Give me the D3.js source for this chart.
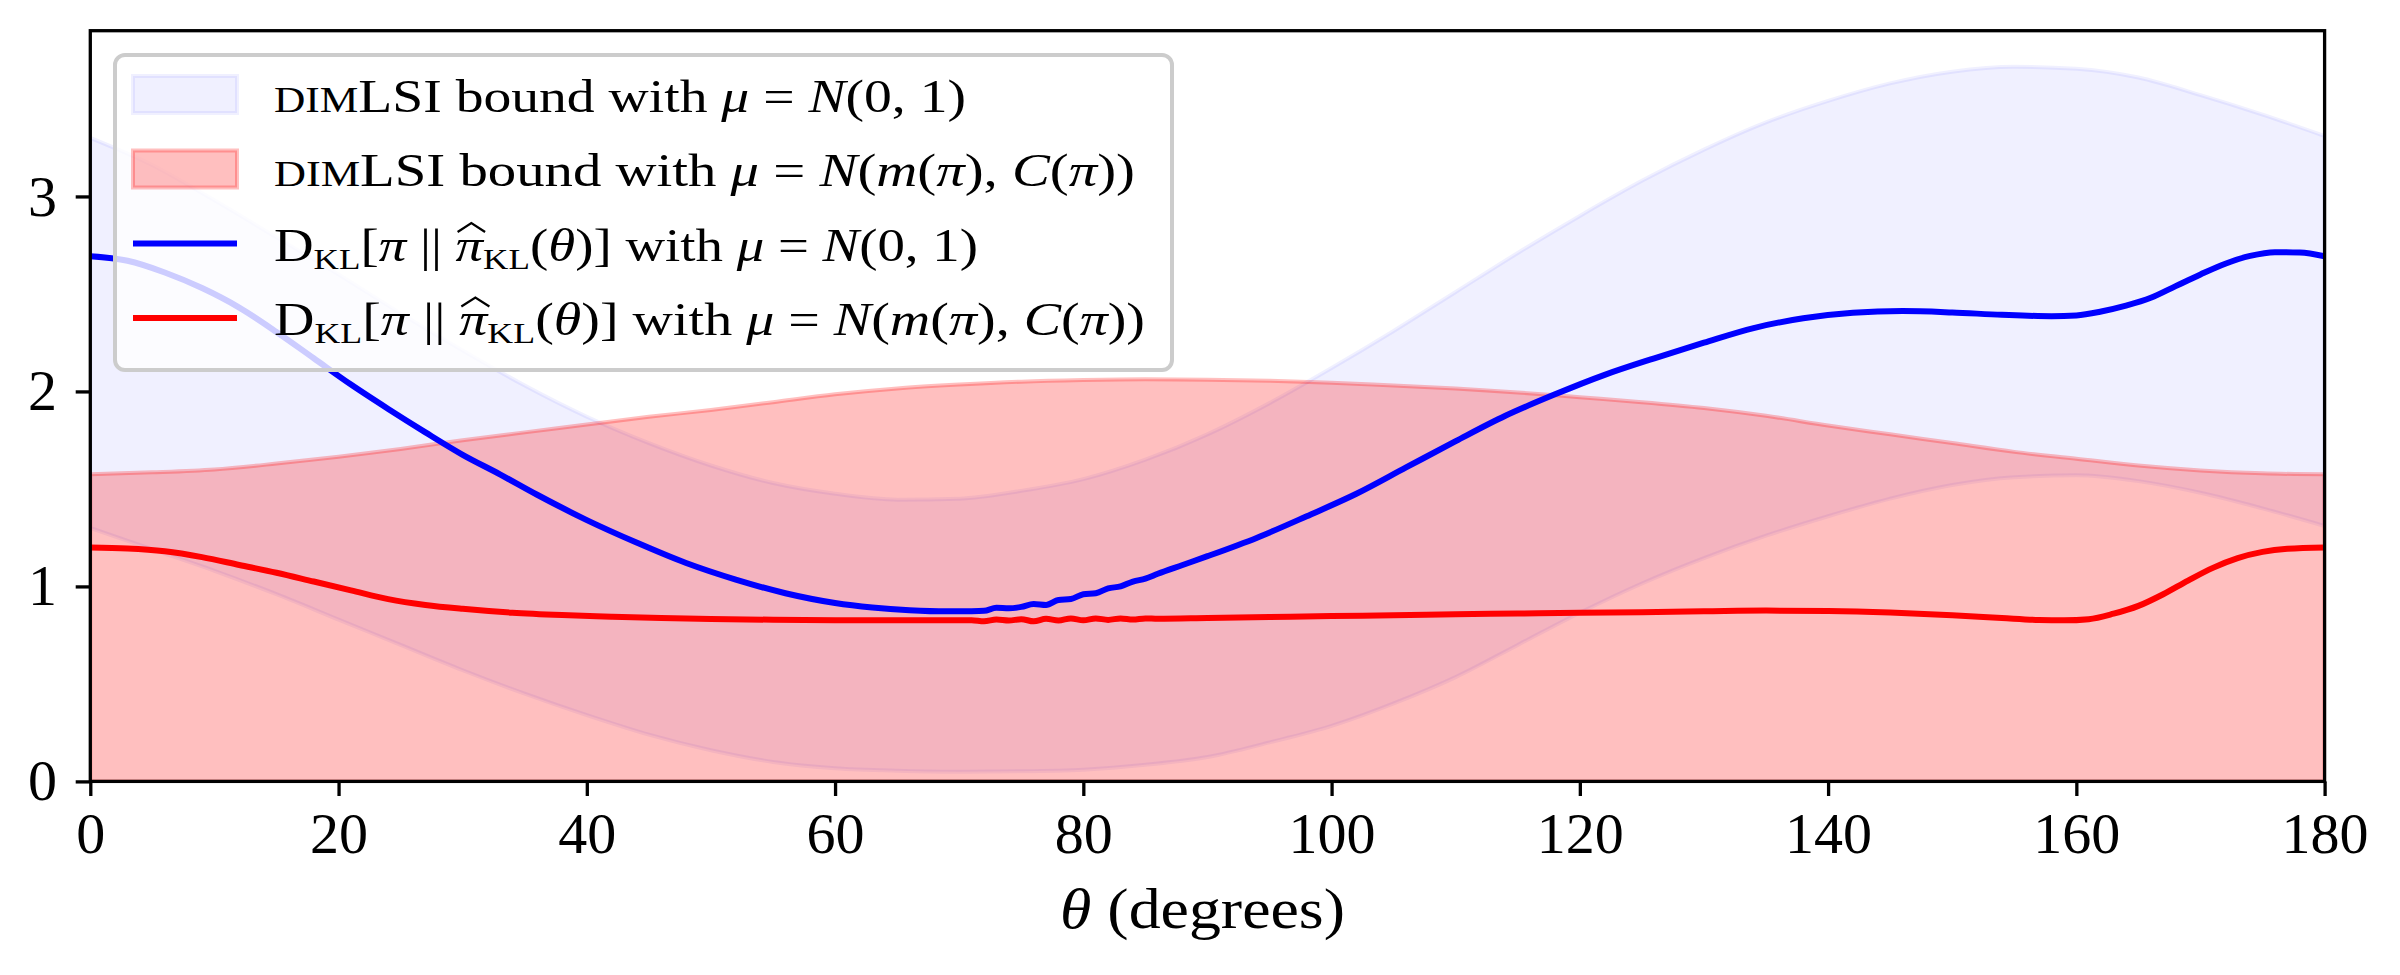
<!DOCTYPE html>
<html>
<head>
<meta charset="utf-8">
<script src="https://cdn.jsdelivr.net/npm/d3@7"></script>
<style>
  body { margin: 0; background: #fff; }
  svg text { font-family: "Liberation Serif", "DejaVu Serif", serif; fill: #000; }
</style>
</head>
<body>
<svg id="chart" width="2400" height="975"></svg>
<script>
// --- data ---
const boundTheta = [0, 5, 10, 15, 20, 25, 30, 35, 40, 45, 50, 55, 60, 65, 70, 75, 80, 85, 90,
  95, 100, 105, 110, 115, 120, 125, 130, 135, 140, 145, 150, 155, 160, 165, 170, 175, 180];
// dimLSI bound, mu = N(0,1): band between lower and upper
const blueUpper = [3.30, 3.16, 2.98, 2.79, 2.60, 2.40, 2.21, 2.03, 1.87, 1.735, 1.62, 1.53, 1.475, 1.445, 1.45,
  1.49, 1.55, 1.65, 1.78, 1.94, 2.12, 2.31, 2.51, 2.71, 2.90, 3.08, 3.24, 3.38, 3.49, 3.58, 3.64, 3.665,
  3.655, 3.61, 3.52, 3.42, 3.31];
const blueLower = [1.30, 1.19, 1.08, 0.96, 0.83, 0.70, 0.57, 0.45, 0.34, 0.24, 0.16, 0.10, 0.068, 0.055, 0.05,
  0.052, 0.06, 0.085, 0.125, 0.20, 0.285, 0.40, 0.535, 0.70, 0.865, 1.015, 1.145, 1.26, 1.36, 1.45, 1.52, 1.56,
  1.57, 1.54, 1.48, 1.40, 1.31];
// dimLSI bound, mu = N(m(pi), C(pi)): band from 0 to upper
const redUpper = [1.575, 1.585, 1.60, 1.63, 1.665, 1.705, 1.75, 1.79, 1.83, 1.87, 1.905, 1.945, 1.985, 2.015,
  2.035, 2.05, 2.058, 2.062, 2.06, 2.055, 2.045, 2.03, 2.015, 1.995, 1.97, 1.945, 1.915, 1.875, 1.825, 1.78, 1.735,
  1.69, 1.655, 1.62, 1.595, 1.58, 1.575];

// KL divergence curves
const klBlueTheta = [0, 3, 6, 9, 12, 15, 18, 21, 24, 27, 30, 33, 36, 40, 44, 48, 52, 56, 60, 63, 66, 69, 71,
  72, 73, 74, 75, 76, 77, 78, 79, 80, 81, 82, 83, 84, 85, 86, 88, 90, 94, 98, 102, 106, 110, 114, 118, 122,
  126, 130, 134, 138, 142, 146, 150, 154, 158, 160, 162, 164, 166, 168, 170, 172, 174, 176, 178, 180];
const klBlue = [2.693, 2.67, 2.61, 2.53, 2.43, 2.305, 2.17, 2.035, 1.91, 1.79, 1.675, 1.575, 1.47, 1.34, 1.225,
  1.12, 1.035, 0.965, 0.915, 0.892, 0.878, 0.872, 0.873,
  0.875, 0.89, 0.888, 0.895, 0.91, 0.905, 0.93, 0.935, 0.96, 0.965, 0.99, 1.0, 1.025, 1.04, 1.065,
  1.11, 1.155, 1.25, 1.36, 1.475, 1.61, 1.745, 1.875, 1.985, 2.085, 2.17, 2.25, 2.325, 2.375, 2.403, 2.412,
  2.405, 2.393, 2.386, 2.39, 2.41, 2.44, 2.48, 2.54, 2.60, 2.655, 2.695, 2.714, 2.712, 2.693];

const klRedTheta = [0, 3, 6, 9, 12, 15, 18, 21, 24, 27, 30, 34, 38, 42, 46, 50, 55, 60, 65, 70,
  71, 72, 73, 74, 75, 76, 77, 78, 79, 80, 81, 82, 83, 84, 85, 86, 90, 95, 100, 105, 110, 115, 120, 125,
  130, 135, 140, 145, 150, 154, 157, 159, 161, 163, 165, 167, 169, 171, 173, 175, 177, 180];
const klRed = [1.20, 1.195, 1.18, 1.15, 1.11, 1.07, 1.025, 0.98, 0.935, 0.905, 0.885, 0.865, 0.853, 0.845,
  0.838, 0.833, 0.829, 0.827, 0.826, 0.826,
  0.827, 0.821, 0.830, 0.825, 0.832, 0.821, 0.834, 0.825, 0.836, 0.826, 0.836, 0.828, 0.836, 0.830, 0.836,
  0.834, 0.838, 0.843, 0.848, 0.852, 0.857, 0.861, 0.865, 0.868, 0.872, 0.876, 0.874, 0.866, 0.852, 0.838,
  0.828, 0.826, 0.832, 0.86, 0.90, 0.96, 1.03, 1.095, 1.145, 1.177, 1.193, 1.20];

const xTicks = [0, 20, 40, 60, 80, 100, 120, 140, 160, 180];
const yTicks = [0, 1, 2, 3];

// legend rows: segments of text (it = italic, sc = small caps, sub = subscript, hat = wide hat)
const muNormal01 = [{ t: "μ", it: 1 }, { t: " = " }, { t: "N", it: 1 }, { t: "(0, 1)" }];
const muNormalPi = [{ t: "μ", it: 1 }, { t: " = " }, { t: "N", it: 1 }, { t: "(" }, { t: "m", it: 1 }, { t: "(" },
  { t: "π", it: 1 }, { t: "), " }, { t: "C", it: 1 }, { t: "(" }, { t: "π", it: 1 }, { t: "))" }];
const klText = [{ t: "D" }, { t: "KL", sub: 1 }, { t: "[" }, { t: "π", it: 1 }, { t: " || " }, { t: "π", it: 1, hat: 1 },
  { t: "KL", sub: 1 }, { t: "(" }, { t: "θ", it: 1 }, { t: ")] with " }];
const dimText = [{ t: "DIM", sc: 1 }, { t: "LSI bound with " }];

const legendRows = [
  { kind: "patch", color: "blue", op: 0.06, width: 692, text: dimText.concat(muNormal01) },
  { kind: "patch", color: "red", op: 0.25, width: 861, text: dimText.concat(muNormalPi) },
  { kind: "line", color: "blue", width: 704, text: klText.concat(muNormal01) },
  { kind: "line", color: "red", width: 871, text: klText.concat(muNormalPi) }
];

// --- layout ---
const svg = d3.select("#chart");
const mLeft = 90.3, mRight = 2324.6, mTop = 30.7, mBottom = 781.4;

const x = d3.scaleLinear().domain([0, 180]).range([mLeft, mRight]);
const y = d3.scaleLinear().domain([0, 3.85]).range([mBottom, mTop]);

svg.append("defs").append("clipPath").attr("id", "plotclip")
  .append("rect").attr("x", mLeft).attr("y", mTop).attr("width", mRight - mLeft).attr("height", mBottom - mTop);

const plot = svg.append("g").attr("clip-path", "url(#plotclip)");

const bandBlue = boundTheta.map((t, i) => ({ t, lo: blueLower[i], hi: blueUpper[i] }));
const bandRed = boundTheta.map((t, i) => ({ t, lo: 0, hi: redUpper[i] }));

const area = d3.area()
  .x(d => x(d.t))
  .y0(d => y(d.lo))
  .y1(d => y(d.hi))
  .curve(d3.curveMonotoneX);

plot.append("path").datum(bandBlue)
  .attr("d", area)
  .attr("fill", "blue").attr("fill-opacity", 0.06)
  .attr("stroke", "blue").attr("stroke-opacity", 0.06).attr("stroke-width", 4);

plot.append("path").datum(bandRed)
  .attr("d", area)
  .attr("fill", "red").attr("fill-opacity", 0.25)
  .attr("stroke", "red").attr("stroke-opacity", 0.25).attr("stroke-width", 4);

const line = d3.line()
  .x(d => x(d[0]))
  .y(d => y(d[1]))
  .curve(d3.curveMonotoneX);

plot.append("path").datum(klBlueTheta.map((t, i) => [t, klBlue[i]]))
  .attr("d", line).attr("fill", "none").attr("stroke", "blue").attr("stroke-width", 6);

plot.append("path").datum(klRedTheta.map((t, i) => [t, klRed[i]]))
  .attr("d", line).attr("fill", "none").attr("stroke", "red").attr("stroke-width", 6);

// --- axes ---
const xAxis = svg.append("g").attr("transform", `translate(0,${mBottom})`)
  .call(d3.axisBottom(x).tickValues(xTicks).tickFormat(d3.format("d"))
    .tickSizeInner(14.6).tickSizeOuter(0).tickPadding(16));
const yAxis = svg.append("g").attr("transform", `translate(${mLeft},0)`)
  .call(d3.axisLeft(y).tickValues(yTicks).tickFormat(d3.format("d"))
    .tickSizeInner(14.6).tickSizeOuter(0).tickPadding(18.7));

[xAxis, yAxis].forEach(a => {
  a.select(".domain").remove();
  a.selectAll(".tick line").attr("stroke", "#000").attr("stroke-width", 3.3);
  a.selectAll(".tick text").style("font-size", "58px").style("font-family", "'Liberation Serif', serif");
});

// spines
svg.append("rect")
  .attr("x", mLeft).attr("y", mTop).attr("width", mRight - mLeft).attr("height", mBottom - mTop)
  .attr("fill", "none").attr("stroke", "#000").attr("stroke-width", 3.3);

// x label
const xl = svg.append("text")
  .attr("x", 1202.5).attr("y", 928)
  .attr("text-anchor", "middle")
  .attr("textLength", 285).attr("lengthAdjust", "spacingAndGlyphs")
  .style("font-size", "58px");
xl.append("tspan").style("font-style", "italic").text("θ");
xl.append("tspan").text(" (degrees)");

// --- legend ---
const lg = svg.append("g");
lg.append("rect")
  .attr("x", 115).attr("y", 55).attr("width", 1057).attr("height", 315).attr("rx", 10)
  .attr("fill", "#fff").attr("fill-opacity", 0.8)
  .attr("stroke", "#cccccc").attr("stroke-width", 4);

const rowY = d3.scaleLinear().domain([0, 3]).range([94.5, 318]);
const fs = 46;

legendRows.forEach((r, i) => {
  const cy = rowY(i);
  if (r.kind === "patch") {
    lg.append("rect")
      .attr("x", 133).attr("y", cy - 18.5).attr("width", 104).attr("height", 37)
      .attr("fill", r.color).attr("fill-opacity", r.op)
      .attr("stroke", r.color).attr("stroke-opacity", r.op).attr("stroke-width", 4);
  } else {
    lg.append("line")
      .attr("x1", 133).attr("x2", 237).attr("y1", cy).attr("y2", cy)
      .attr("stroke", r.color).attr("stroke-width", 6);
  }
  const tx = lg.append("text")
    .attr("x", 274).attr("y", cy + 17)
    .attr("textLength", r.width).attr("lengthAdjust", "spacingAndGlyphs")
    .style("font-size", fs + "px");
  let shifted = false;
  const hats = [];
  r.text.forEach(s => {
    const sp = tx.append("tspan").text(s.t);
    if (s.it) sp.style("font-style", "italic");
    if (s.sc) sp.style("font-size", (fs * 0.78) + "px");
    if (s.sub) {
      sp.style("font-size", (fs * 0.64) + "px").attr("dy", 8);
      shifted = true;
    } else if (shifted) {
      sp.attr("dy", -8);
      shifted = false;
    }
    if (s.hat) hats.push(sp.node());
  });
  // wide hat drawn over the marked letters
  hats.forEach(n => {
    const b = n.getExtentOfChar(0);
    const top = cy + 17 - fs * 0.62;
    lg.append("path")
      .attr("d", `M${b.x + 2},${top} L${b.x + b.width / 2 + 2},${top - 9} L${b.x + b.width + 2},${top}`)
      .attr("fill", "none").attr("stroke", "#000").attr("stroke-width", 2.2);
  });
});
</script>
</body>
</html>
